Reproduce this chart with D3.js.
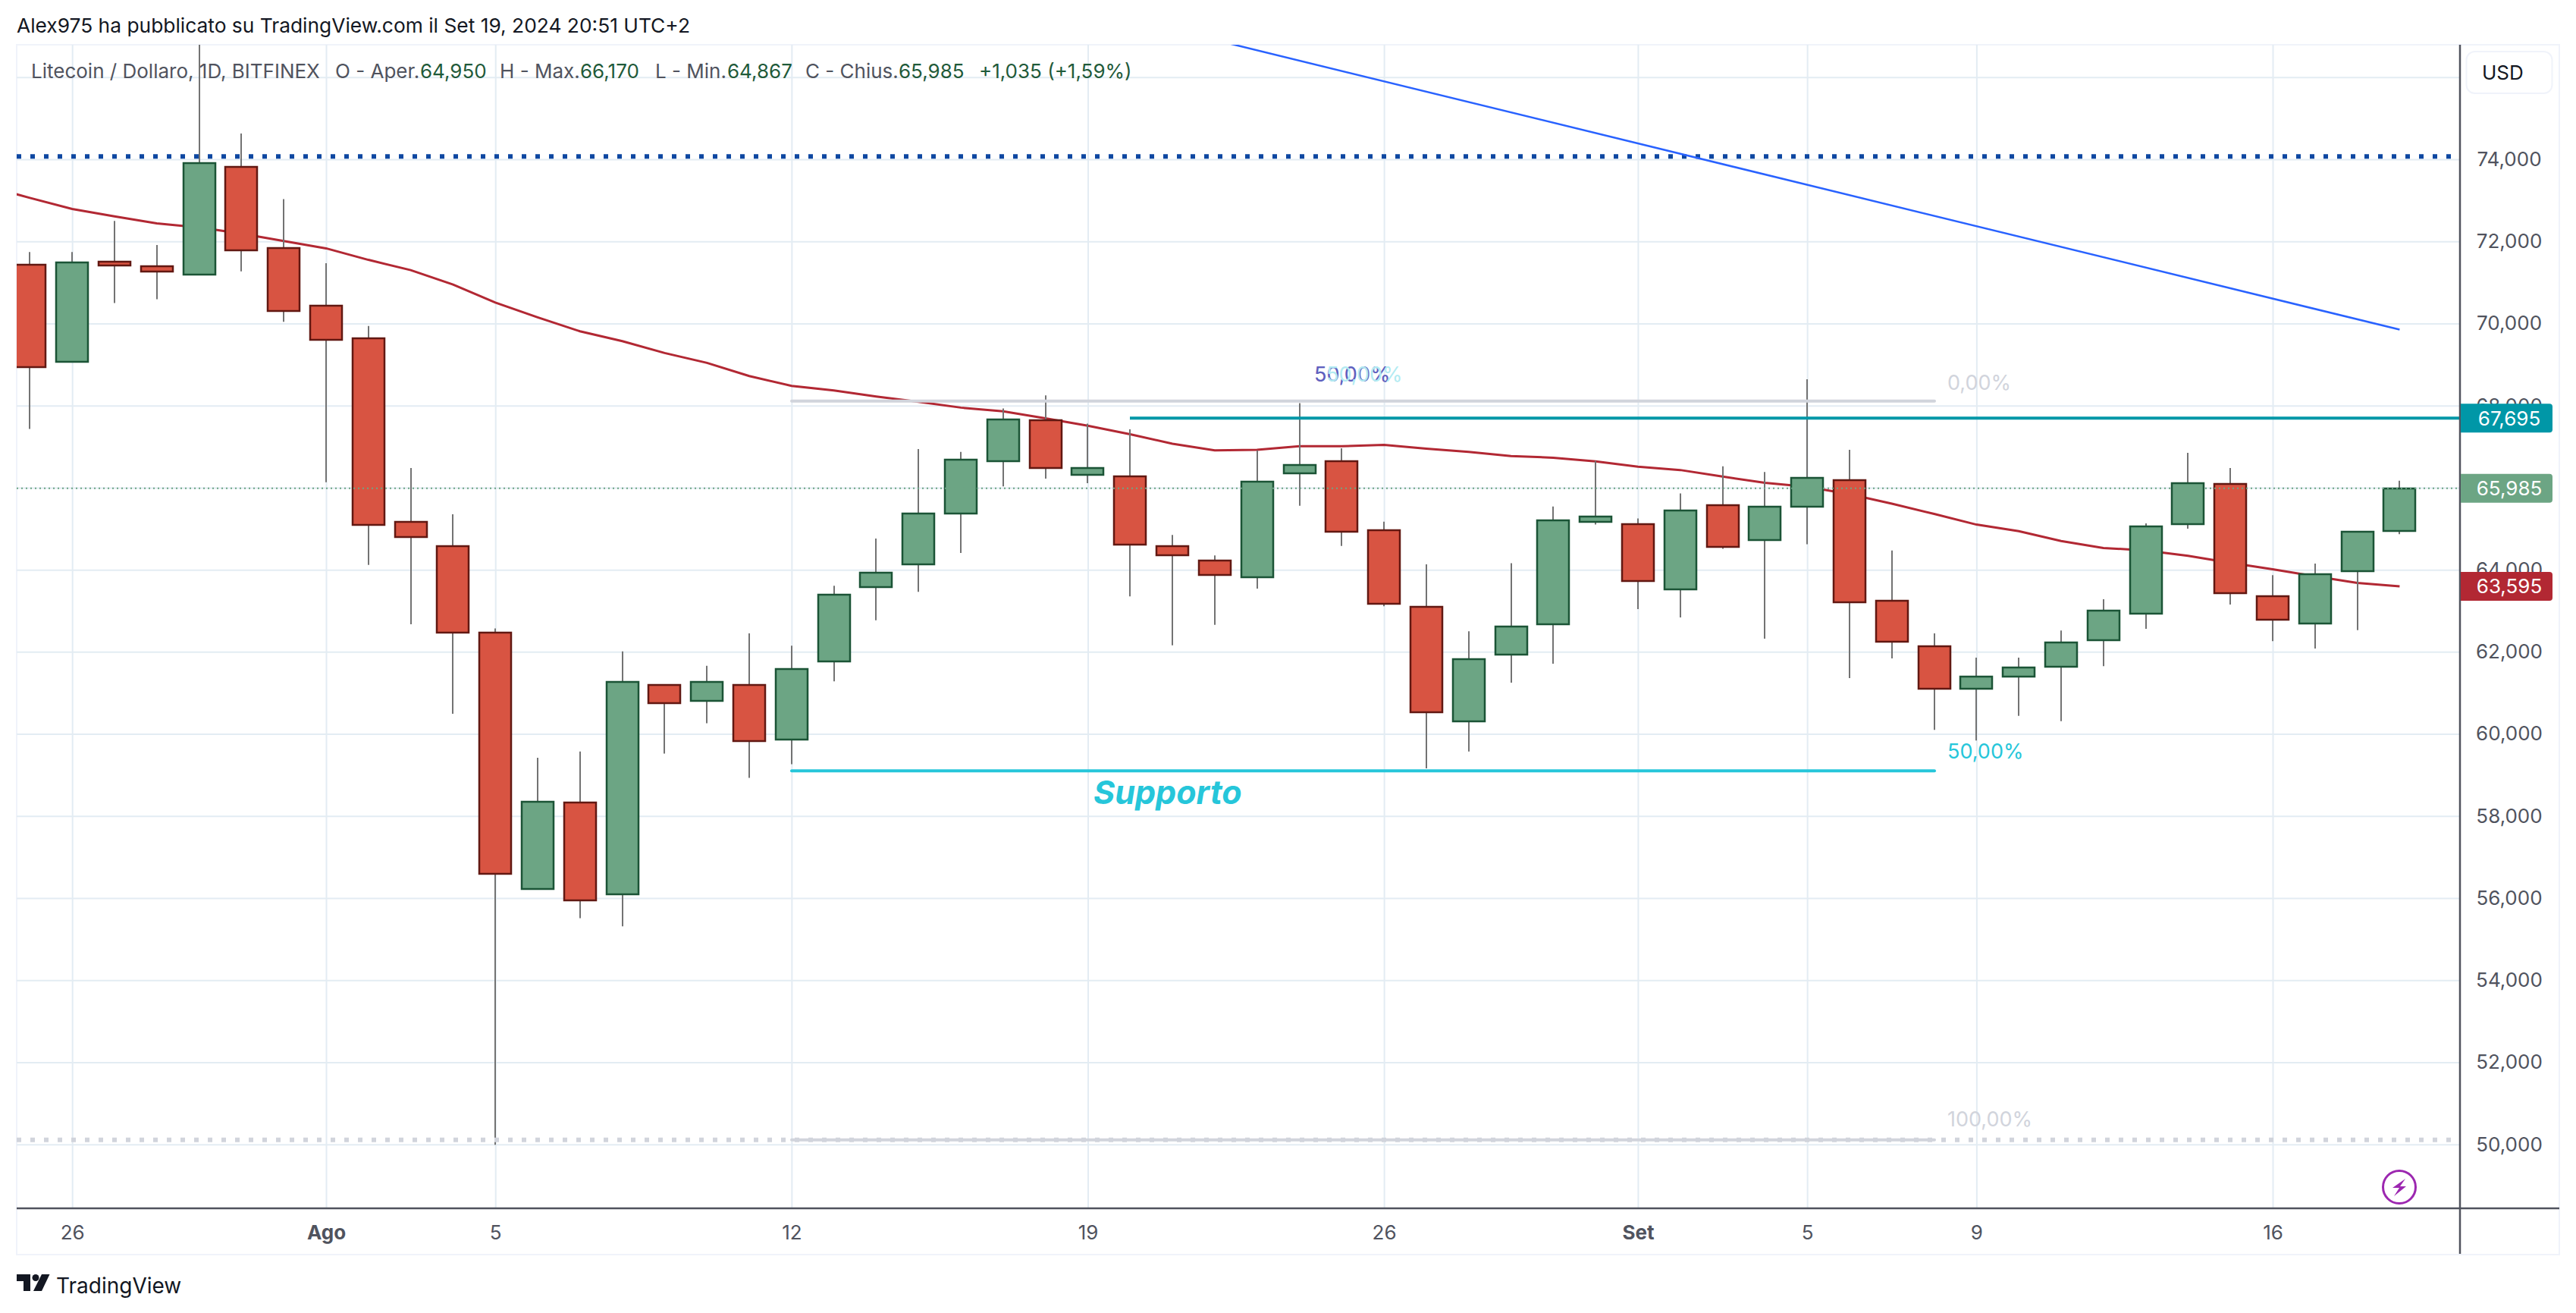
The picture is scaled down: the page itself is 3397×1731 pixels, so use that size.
<!DOCTYPE html>
<html><head><meta charset="utf-8">
<script src="https://cdn.jsdelivr.net/npm/d3@7/dist/d3.min.js"></script>
<style>
html,body{margin:0;padding:0;background:#fff}
svg{display:block}
text{font-family:Inter,"Noto Sans",sans-serif}
</style></head><body><div id="c"></div>
<script>
const dates=["2024-07-25","2024-07-26","2024-07-27","2024-07-28","2024-07-29","2024-07-30","2024-07-31","2024-08-01","2024-08-02","2024-08-03","2024-08-04","2024-08-05","2024-08-06","2024-08-07","2024-08-08","2024-08-09","2024-08-10","2024-08-11","2024-08-12","2024-08-13","2024-08-14","2024-08-15","2024-08-16","2024-08-17","2024-08-18","2024-08-19","2024-08-20","2024-08-21","2024-08-22","2024-08-23","2024-08-24","2024-08-25","2024-08-26","2024-08-27","2024-08-28","2024-08-29","2024-08-30","2024-08-31","2024-09-01","2024-09-02","2024-09-03","2024-09-04","2024-09-05","2024-09-06","2024-09-07","2024-09-08","2024-09-09","2024-09-10","2024-09-11","2024-09-12","2024-09-13","2024-09-14","2024-09-15","2024-09-16","2024-09-17","2024-09-18","2024-09-19"];
const opens=[71.44,69.06,71.51,71.39,71.19,73.82,71.83,70.44,69.63,65.17,64.57,62.46,56.22,58.33,56.08,61.20,60.81,61.19,59.87,61.77,63.57,64.14,65.36,66.66,67.65,66.32,66.28,64.58,64.22,63.81,66.35,66.65,64.97,63.09,60.32,61.92,62.68,65.16,65.12,63.53,65.57,64.71,65.53,66.19,63.25,62.14,61.11,61.39,61.63,62.29,62.94,65.12,66.09,63.36,62.70,63.97,64.95];
const closes=[68.94,71.48,71.41,71.26,73.90,71.78,70.29,69.61,65.09,64.80,62.47,56.58,58.35,55.95,61.26,60.75,61.27,59.82,61.58,63.40,63.93,65.37,66.68,67.67,66.49,66.48,64.62,64.36,63.86,66.14,66.55,64.94,63.17,60.52,61.83,62.61,65.21,65.29,63.74,65.45,64.55,65.53,66.24,63.22,62.26,61.11,61.40,61.61,62.23,63.01,65.06,66.11,63.42,62.78,63.90,64.93,65.985];
const highs=[71.74,71.74,72.50,71.91,77.00,74.63,73.03,71.47,69.94,66.48,65.35,62.57,59.42,59.57,62.01,61.20,61.66,62.45,62.15,63.61,64.76,66.94,66.87,67.93,68.25,67.56,67.42,64.85,64.35,66.91,68.06,66.96,65.17,64.13,62.50,64.16,65.54,66.65,65.25,65.86,66.52,66.38,68.64,66.92,64.47,62.45,61.86,61.86,62.52,63.28,65.13,66.85,66.48,63.87,64.15,64.93,66.17];
const lows=[67.43,69.06,70.50,70.59,71.19,71.27,70.04,66.13,64.12,62.67,60.49,49.99,56.22,55.51,55.31,59.52,60.26,58.93,59.26,61.28,62.77,63.46,64.41,66.03,66.22,66.11,63.35,62.16,62.66,63.54,65.56,64.58,63.11,59.16,59.57,61.25,61.71,65.10,63.04,62.84,64.51,62.32,64.62,61.36,61.84,60.10,59.84,60.44,60.31,61.65,62.56,65.00,63.15,62.26,62.08,62.53,64.867];
const maDates=["2024-07-24"].concat(dates);
const maValues=[73.34,73.06,72.79,72.61,72.44,72.34,72.19,72.01,71.83,71.55,71.30,70.95,70.51,70.15,69.81,69.57,69.28,69.04,68.72,68.48,68.37,68.22,68.09,67.95,67.86,67.69,67.51,67.30,67.07,66.91,66.92,67.01,67.01,67.04,66.95,66.87,66.77,66.73,66.64,66.51,66.43,66.27,66.12,66.02,65.84,65.61,65.36,65.10,64.94,64.70,64.53,64.47,64.34,64.17,64.01,63.84,63.68,63.595];
const yTicks=[50,52,54,56,58,60,62,64,66,68,70,72,74,76];
const xTickDates=["2024-07-26","2024-08-01","2024-08-05","2024-08-12","2024-08-19","2024-08-26","2024-09-01","2024-09-05","2024-09-09","2024-09-16"];
const xTickLabels=["26","Ago","5","12","19","26","Set","5","9","16"];
const boldTicks=["Ago","Set"];
const trendDates=["2024-08-21","2024-09-19"], trendValues=[77.16,69.85];
const level=74.07, fibStart="2024-08-12", fibEnd="2024-09-08", fibTop=68.11, fibMid=59.10, fibBot=50.11;
const hLineStart="2024-08-20", hLineValue=67.695, lastClose=65.985, maLast=63.595;
const fibLabels=["0,00%","50,00%","100,00%"];
const header="Alex975 ha pubblicato su TradingView.com il Set 19, 2024 20:51 UTC+2";
const legendParts=[["Litecoin / Dollaro, 1D, BITFINEX",41,0],["O - Aper.",442,0],["64,950",554,1],["H - Max.",659,0],["66,170",765,1],["L - Min.",864,0],["64,867",959,1],["C - Chius.",1062,0],["65,985",1185,1],["+1,035 (+1,59%)",1291,1]];

const W=3397,H=1731,L=22,R=3244,T=59,B=1593;
const UP="#6ca584",UPB="#1b5436",DN="#d85442",DNB="#621812",WICK="#737373",GRID="#e3ecf3",FRAME="#f0f3fa",AXIS="#50535e",TEAL="#0097a7",CYAN="#26c6da",GRAY="#d1d4dc",MA="#b22833";
const parse=d3.utcParse("%Y-%m-%d");
const x=d3.scaleUtc().domain([parse("2024-08-01"),parse("2024-09-16")]).range([430,2997]);
const y=d3.scaleLinear().domain([50,74]).range([1508.7,210]);
const X=d=>Math.round(x(parse(d)));
const fmt=d3.formatLocale({decimal:",",thousands:".",grouping:[3],currency:["","$"]}).format(".3f");

const svg=d3.select("#c").append("svg").attr("width",W).attr("height",H);
svg.append("defs").append("clipPath").attr("id","pane").append("rect").attr("x",L).attr("y",T).attr("width",R-L).attr("height",B-T);

// frame
svg.append("rect").attr("x",22).attr("y",59).attr("width",3353).attr("height",1595).attr("fill","none").attr("stroke",FRAME).attr("stroke-width",2);

// grids
const pane=svg.append("g").attr("clip-path","url(#pane)");
const gx=pane.append("g").attr("transform",`translate(0,${B})`).call(d3.axisBottom(x).tickValues(xTickDates.map(parse)).tickSize(-(B-T)).tickFormat(""));
gx.select(".domain").remove();
gx.selectAll("line").attr("stroke",GRID).attr("stroke-width",2);
const gy=pane.append("g").attr("transform",`translate(${L},0)`).call(d3.axisRight(y).tickValues(yTicks).tickSize(R-L).tickFormat(""));
gy.select(".domain").remove();
gy.selectAll("line").attr("stroke",GRID).attr("stroke-width",2);

// moving average
pane.append("path").datum(maValues).attr("fill","none").attr("stroke",MA).attr("stroke-width",3)
  .attr("d",d3.line().x((d,i)=>x(parse(maDates[i]))).y(d=>y(d)));

// candles
const rows=dates.map((d,i)=>({d,o:opens[i],c:closes[i],h:highs[i],l:lows[i]}));
const cg=pane.append("g").selectAll("g").data(rows).join("g");
cg.append("line").attr("x1",r=>X(r.d)).attr("x2",r=>X(r.d)).attr("y1",r=>y(r.h)).attr("y2",r=>y(r.l)).attr("stroke",WICK).attr("stroke-width",2);
cg.append("rect").attr("x",r=>X(r.d)-21).attr("width",42)
  .attr("y",r=>Math.round(y(Math.max(r.o,r.c))))
  .attr("height",r=>Math.max(2,Math.round(y(Math.min(r.o,r.c))-y(Math.max(r.o,r.c)))))
  .attr("fill",r=>r.c>=r.o?UP:DN).attr("stroke",r=>r.c>=r.o?UPB:DNB).attr("stroke-width",2.5);

// drawings
const hline=(v,x1,x2,c,w,dash)=>{const l=pane.append("line").attr("x1",x1).attr("x2",x2).attr("y1",y(v)).attr("y2",y(v)).attr("stroke",c).attr("stroke-width",w);if(dash)l.attr("stroke-dasharray",dash);return l;};
hline(fibBot,L,R,GRAY,6,"6 12");
hline(level,L,R,"#0d47a1",6,"6 12");
hline(lastClose,L,R,UP,2,"2 4");
[[fibTop,GRAY],[fibMid,CYAN],[fibBot,GRAY]].forEach(([v,c])=>hline(v,X(fibStart),X(fibEnd),c,4).attr("stroke-linecap","round"));
hline(hLineValue,X(hLineStart),R,TEAL,4);
pane.append("line").attr("x1",x(parse(trendDates[0]))).attr("y1",y(trendValues[0])).attr("x2",x(parse(trendDates[1]))).attr("y2",y(trendValues[1])).attr("stroke","#2962ff").attr("stroke-width",2.5);

// fib labels
const fx=X(fibEnd)+17;
const fibText=(t,px,v,c)=>svg.append("text").attr("x",px).attr("y",v).attr("fill",c).attr("font-size",27).text(t);
fibText(fibLabels[0],fx,514,GRAY);
fibText(fibLabels[1],fx,1000,CYAN);
fibText(fibLabels[2],fx,1485,GRAY);
fibText(fibLabels[1],1733,503,"#4527a0");
fibText(fibLabels[1],1733,503,"#90caf9").attr("opacity",.35);
fibText(fibLabels[1],1749,503,"#b2ebf2");
svg.append("text").attr("x",1442).attr("y",1060).attr("fill",CYAN).attr("font-size",43).attr("font-weight",700).attr("font-style","italic").text("Supporto");

// axes
svg.append("line").attr("x1",R).attr("x2",R).attr("y1",T).attr("y2",1653).attr("stroke",AXIS).attr("stroke-width",2.5);
svg.append("line").attr("x1",22).attr("x2",3375).attr("y1",B).attr("y2",B).attr("stroke",AXIS).attr("stroke-width",2.5);
const ay=svg.append("g").attr("transform",`translate(${R},0)`).call(d3.axisRight(y).tickValues(yTicks.filter(v=>v<76)).tickSize(0).tickFormat(v=>fmt(v)));
ay.select(".domain").remove();
ay.selectAll("text").attr("x",65).attr("text-anchor","middle").attr("fill",AXIS).attr("font-size",26).style("font-family","Inter");
const ax=svg.append("g").attr("transform",`translate(0,${B})`).call(d3.axisBottom(x).tickValues(xTickDates.map(parse)).tickSize(0).tickFormat((d,i)=>xTickLabels[i]));
ax.select(".domain").remove();
ax.selectAll("text").attr("y",33).attr("dy","0.32em").attr("fill",AXIS).attr("font-size",26).style("font-family","Inter")
  .attr("font-weight",(d,i)=>boldTicks.includes(xTickLabels[i])?700:400);

// price badges
[[hLineValue,TEAL],[lastClose,UP],[maLast,MA]].forEach(([v,c])=>{
  const cy=y(v);
  svg.append("path").attr("fill",c).attr("d",`M${R+1} ${cy-19}H3362a4 4 0 0 1 4 4V${cy+15}a4 4 0 0 1 -4 4H${R+1}Z`);
  svg.append("text").attr("x",3309).attr("y",cy).attr("dy","0.36em").attr("text-anchor","middle").attr("fill","#fff").attr("font-size",26).text(fmt(v));
});

// currency box
svg.append("rect").attr("x",3252.5).attr("y",68).attr("width",113).attr("height",55).attr("rx",11).attr("fill","#fff").attr("stroke",FRAME).attr("stroke-width",2);
svg.append("text").attr("x",3273).attr("y",105).attr("fill","#131722").attr("font-size",26).text("USD");

// bolt icon
const bolt=svg.append("g").attr("transform",`translate(${X(dates[dates.length-1])},1565)`);
bolt.append("circle").attr("r",21.5).attr("fill","#fff").attr("stroke","#9c27b0").attr("stroke-width",3);
bolt.append("path").attr("fill","#9c27b0").attr("d","M8-11L-9 1H0L-7 12L9-1H1Z");

// header, legend, logo
svg.append("text").attr("x",22).attr("y",43).attr("fill","#131722").attr("font-size",26).attr("textLength",888).attr("lengthAdjust","spacingAndGlyphs").text(header);
const leg=svg.append("g");
legendParts.forEach(([t,px,val])=>leg.append("text").attr("x",px).attr("y",103).attr("fill",val?"#1f5a3a":AXIS).attr("font-size",26).text(t));
const logo=svg.append("g").attr("transform","translate(22,1680)").attr("fill","#131722");
logo.append("path").attr("d","M0 0H18V22H9V9H0Z");
logo.append("circle").attr("cx",25).attr("cy",4.5).attr("r",4.5);
logo.append("path").attr("d","M33 0H43.5L33 22H22Z");
svg.append("text").attr("x",74).attr("y",1705).attr("fill","#131722").attr("font-size",28).text("TradingView");
</script></body></html>
